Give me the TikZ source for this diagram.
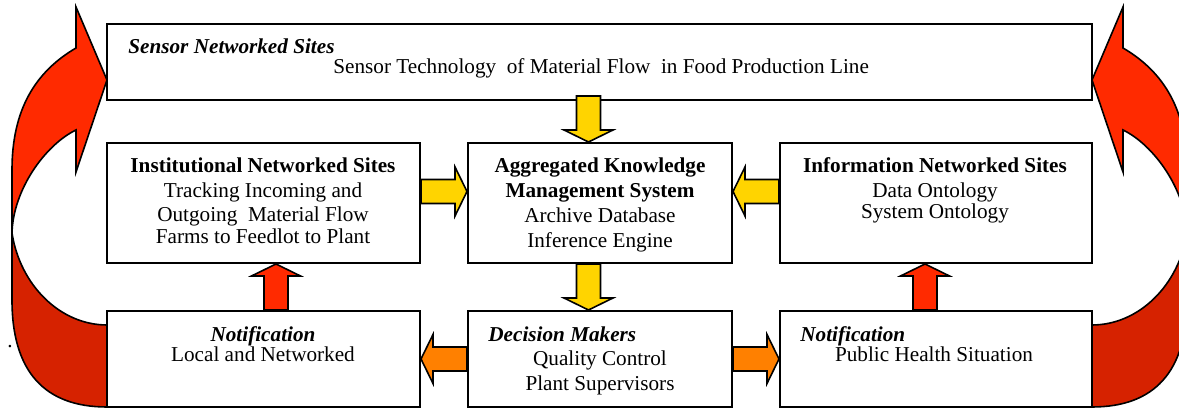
\documentclass[tikz,border=0pt]{standalone}
\usepackage{fontspec}
\setmainfont{Liberation Serif}
\usetikzlibrary{calc}

\definecolor{flowyellow}{RGB}{255,212,0}
\definecolor{floworange}{RGB}{255,128,0}
\definecolor{flowred}{RGB}{255,42,0}
\definecolor{flowdark}{RGB}{214,34,0}

% fat arrow from #2 to its tip at #3, filled with #1
\newcommand{\blockarrow}[3]{%
  \path (#2) coordinate (ba-s) (#3) coordinate (ba-t)
        ($(ba-t)!6pt!(ba-s)$) coordinate (ba-h);
  \draw[line width=0.8pt, fill=#1]
    ($(ba-s)!6pt!90:(ba-t)$) -- ($(ba-h)!6pt!-90:(ba-s)$) -- ($(ba-h)!12.25pt!-90:(ba-s)$)
    -- (ba-t) -- ($(ba-h)!12.25pt!90:(ba-s)$) -- ($(ba-h)!6pt!90:(ba-s)$)
    -- ($(ba-s)!6pt!-90:(ba-t)$) -- cycle;
}

\tikzset{
  pics/ribbon/.style={code={
    % front face, up to the head
    \draw[line width=0.8pt, fill=flowred] (76,48) .. controls (35,72) and (12,110) .. (12,170)
      -- (12,233) .. controls (13,190) and (45,145) .. (76,130) -- (76,172) -- (107,80) -- (76,7) -- cycle;
    % back face, out of the bottom box
    \draw[line width=0.8pt, fill=flowdark] (12,233) -- (12,300) .. controls (12,372) and (45,407) .. (107,407)
      -- (107,325) .. controls (60,325) and (20,285) .. (12,233) -- cycle;
  }}
}

\begin{document}
\begin{tikzpicture}[x=0.5pt, y=-0.5pt,
    box/.style={draw, line width=1pt, inner sep=0pt, minimum height=60pt},
    txt/.style={inner sep=0pt, anchor=base, font=\fontsize{10.6}{12.5}\selectfont},
    boldtxt/.style={txt, font=\fontsize{10.6}{12.5}\selectfont\bfseries},
    itxt/.style={txt, font=\fontsize{10.6}{12.5}\selectfont\bfseries\itshape}]
  \useasboundingbox (0,0) rectangle (1179,410);

  \pic at (0,0) {ribbon};
  \pic[xscale=-1] at (1199,0) {ribbon};

  % boxes
  \node[box, minimum width=492.5pt, minimum height=38pt] (sensor) at (599.5,62) {};
  \node[box, minimum width=156.5pt] (inst) at (263.5,203) {};
  \node[box, minimum width=132pt] (akms) at (600,203) {};
  \node[box, minimum width=156pt] (info) at (936,203) {};
  \node[box, minimum width=156.5pt, minimum height=48pt] (notifL) at (263.5,359) {};
  \node[box, minimum width=132pt, minimum height=48pt] (decide) at (600,359) {};
  \node[box, minimum width=156pt, minimum height=48pt] (notifR) at (936,359) {};

  % texts
  \node[itxt, anchor=base west] (sensortitle) at (128,54) {Sensor Networked Sites};
  \node[txt, anchor=base west] (sensortext) at (333,74) {Sensor Technology~ of Material Flow~ in Food Production Line};

  \node[boldtxt] (insttitle) at (263,173) {Institutional Networked Sites};
  \node[txt] (inst1) at (263,198) {Tracking Incoming and};
  \node[txt] (inst2) at (263,222) {Outgoing~ Material Flow};
  \node[txt] (inst3) at (263,244) {Farms to Feedlot to Plant};

  \node[boldtxt] (akmstitle1) at (600,173) {Aggregated Knowledge};
  \node[boldtxt] (akmstitle2) at (600,198) {Management System};
  \node[txt] (akms1) at (600,223) {Archive Database};
  \node[txt] (akms2) at (600,248) {Inference Engine};

  \node[boldtxt] (infotitle) at (935,173) {Information Networked Sites};
  \node[txt] (info1) at (935,198) {Data Ontology};
  \node[txt] (info2) at (935,219) {System Ontology};

  \node[itxt] (notifLtitle) at (263,342) {Notification};
  \node[txt] (notifL1) at (263,362) {Local and Networked};

  \node[itxt, anchor=base west] (decidetitle) at (488,342) {Decision Makers};
  \node[txt] (decide1) at (600,366) {Quality Control};
  \node[txt] (decide2) at (600,391) {Plant Supervisors};

  \node[itxt, anchor=base west] (notifRtitle) at (800,342) {Notification};
  \node[txt] (notifR1) at (934,362) {Public Health Situation};

  \node[txt] (dot) at (10,348) {.};

  % flows between the boxes
  \blockarrow{flowyellow}{$(sensor.south -| akms.north)+(-11.5,-5)$}{$(akms.north)+(-11.5,0)$}
  \blockarrow{flowyellow}{$(akms.south)+(-11.5,0)$}{$(decide.north)+(-11.5,0)$}
  \blockarrow{flowyellow}{$(inst.east)+(0,-11.5)$}{$(akms.west)+(0,-11.5)$}
  \blockarrow{flowyellow}{$(info.west)+(0,-11.5)$}{$(akms.east)+(0,-11.5)$}
  \blockarrow{floworange}{decide.west}{notifL.east}
  \blockarrow{floworange}{decide.east}{notifR.west}
  \blockarrow{flowred}{$(notifL.north)+(12.5,0)$}{$(inst.south)+(12.5,0)$}
  \blockarrow{flowred}{$(notifR.north)+(-11,0)$}{$(info.south)+(-11,0)$}
\end{tikzpicture}
\end{document}
